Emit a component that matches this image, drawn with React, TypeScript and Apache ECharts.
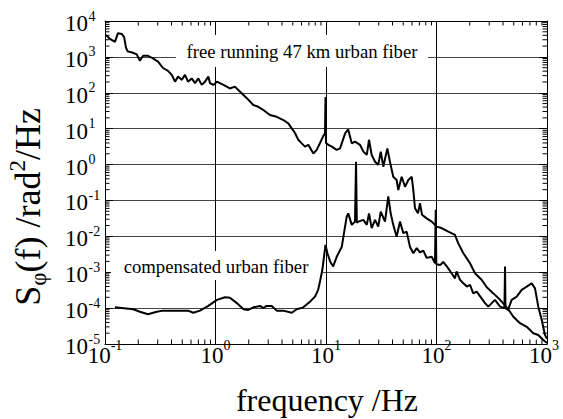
import { useEffect, useRef } from 'react';
import * as echarts from 'echarts';

const FONT = 'Liberation Serif';

// free running 47 km urban fiber: frequency (Hz) and S_phi (rad^2/Hz)
const freeFreq = [0.102, 0.111, 0.123, 0.131, 0.142, 0.149, 0.155, 0.161, 0.174, 0.194, 0.207, 0.221, 0.245, 0.272, 0.302, 0.335, 0.372, 0.402, 0.43, 0.458, 0.494, 0.53, 0.564, 0.609, 0.652, 0.699, 0.75, 0.804, 0.861, 0.891, 0.955, 1.03, 1.18, 1.35, 1.5, 1.67, 1.92, 2.2, 2.44, 2.71, 3.11, 3.58, 4.11, 4.56, 4.9, 5.24, 5.61, 6.03, 6.46, 6.92, 7.68, 8.24, 8.83, 9.46, 9.79, 9.9, 10.0, 10.5, 11.3, 12.5, 13.4, 14.9, 15.9, 17.1, 18.3, 20.3, 21.8, 23.4, 24.5, 25.9, 27.8, 29.7, 31.3, 33.0, 35.9, 37.9, 40.6, 43.6, 45.1, 48.4, 51.9, 55.6, 59.7, 61.7, 63.9, 68.0, 70.9, 74.0, 81.5, 90.5, 100.4, 111, 128, 147, 157, 175, 201, 223, 256, 285, 327, 376, 417, 462, 496, 570, 655, 752, 834, 926, 1000];
const freeVal = [4070, 3160, 2630, 4570, 4370, 3550, 1780, 1410, 1350, 1170, 776, 1070, 1070, 912, 741, 490, 407, 316, 204, 282, 229, 316, 204, 251, 186, 251, 166, 204, 282, 186, 166, 204, 166, 132, 148, 107, 70.8, 45.7, 40.7, 33.1, 24.0, 21.4, 17.4, 14.1, 10.2, 7.59, 4.9, 3.89, 3.16, 3.55, 2.04, 2.57, 3.98, 6.31, 7.41, 75.9, 3.98, 3.55, 3.16, 2.57, 2.82, 7.41, 9.55, 3.89, 4.37, 3.55, 2.29, 1.86, 4.9, 1.86, 1.2, 0.977, 2.29, 0.871, 2.82, 1.2, 0.457, 0.372, 0.195, 0.457, 0.24, 0.372, 0.457, 0.195, 0.0603, 0.0437, 0.0832, 0.0398, 0.0316, 0.0257, 0.0186, 0.017, 0.0135, 0.011, 6.46e-3, 3.39e-3, 1.78e-3, 9.33e-4, 6.17e-4, 3.8e-4, 2.57e-4, 1.7e-4, 1.2e-4, 7.94e-5, 5.75e-5, 3.8e-5, 3.02e-5, 2.0e-5, 1.78e-5, 1.29e-5, 1.07e-5];

// compensated urban fiber
const compFreq = [0.123, 0.18, 0.207, 0.245, 0.294, 0.335, 0.446, 0.564, 0.63, 0.724, 0.861, 1.03, 1.22, 1.35, 1.56, 1.79, 1.98, 2.2, 2.53, 2.71, 2.9, 3.23, 3.58, 4.11, 4.9, 5.43, 6.23, 7.16, 7.95, 8.47, 8.83, 9.26, 9.65, 9.9, 10.3, 10.9, 11.6, 12.5, 13.9, 14.3, 15.4, 15.9, 17.1, 18.3, 18.7, 19.0, 19.6, 21.8, 23.4, 24.5, 25.9, 27.8, 29.7, 31.3, 34.2, 36.6, 38.5, 40.6, 43.6, 46.7, 50.1, 53.7, 57.5, 61.7, 66.2, 70.9, 76.0, 81.5, 90.5, 96.9, 98.4, 99.6, 108, 115, 124, 137, 147, 152, 163, 175, 188, 201, 215, 231, 256, 275, 294, 316, 338, 376, 412, 417, 421, 444, 479, 532, 590, 655, 727, 779, 834, 896, 959, 1000];
const compVal = [1.05e-4, 9.33e-5, 7.94e-5, 6.76e-5, 7.94e-5, 8.51e-5, 8.51e-5, 8.51e-5, 7.41e-5, 8.51e-5, 1.15e-4, 1.7e-4, 2.0e-4, 1.95e-4, 1.38e-4, 9.33e-5, 8.91e-5, 1.05e-4, 1.15e-4, 1.0e-4, 1.15e-4, 1.15e-4, 8.51e-5, 8.51e-5, 7.41e-5, 9.33e-5, 1.05e-4, 1.51e-4, 2.09e-4, 3.16e-4, 5.62e-4, 1.15e-3, 3.16e-3, 5.75e-3, 3.39e-3, 2.0e-3, 1.45e-3, 2.69e-3, 5.13e-3, 8.91e-3, 0.0355, 0.0437, 0.0209, 0.0257, 1.2, 0.024, 0.0257, 0.0288, 0.0209, 0.0437, 0.017, 0.0288, 0.0186, 0.049, 0.0257, 0.129, 0.0437, 0.0209, 9.77e-3, 0.0257, 0.0123, 0.0135, 5.13e-3, 3.39e-3, 4.68e-3, 3.55e-3, 3.98e-3, 2.51e-3, 2.69e-3, 1.78e-3, 0.055, 1.66e-3, 1.58e-3, 1.95e-3, 1.45e-3, 9.33e-4, 6.76e-4, 1.05e-3, 6.17e-4, 4.9e-4, 3.98e-4, 4.47e-4, 2.57e-4, 2.88e-4, 1.86e-4, 1.38e-4, 1.1e-4, 1.38e-4, 1.7e-4, 1.1e-4, 1.0e-4, 1.45e-3, 1.0e-4, 8.91e-5, 1.7e-4, 2.09e-4, 3.24e-4, 3.98e-4, 4.9e-4, 3.55e-4, 1.1e-4, 4.68e-5, 1.78e-5, 1.41e-5];

// axis ranges, decade ticks and their exponent labels
const xMin = 0.1;
const xMax = 1000;
const yMin = 1e-5;
const yMax = 1e4;
const xTicks = [0.1, 1, 10, 100, 1000];
const xTickExp = ['-1', '0', '1', '2', '3'];
const yTicks = [1e-5, 1e-4, 1e-3, 1e-2, 1e-1, 1, 10, 100, 1000, 10000];
const yTickExp = ['-5', '-4', '-3', '-2', '-1', '0', '1', '2', '3', '4'];
const minorMantissas = [2, 3, 4, 5, 6, 7, 8, 9];

const xMinor: number[] = [];
xTicks.slice(0, -1).forEach((d) => minorMantissas.forEach((m) => xMinor.push(m * d)));
const yMinor: number[] = [];
yTicks.slice(0, -1).forEach((d) => minorMantissas.forEach((m) => yMinor.push(m * d)));

let measureCtx: CanvasRenderingContext2D | null = null;
function measure(text: string, size: number): number {
  if (!measureCtx) measureCtx = document.createElement('canvas').getContext('2d');
  if (!measureCtx) return text.length * size * 0.5;
  measureCtx.font = `${size}px "${FONT}"`;
  return measureCtx.measureText(text).width;
}

// text element for the graphic component
function txt(text: string, x: number, y: number, size: number, align: string, extra: any = {}) {
  return {
    type: 'text', x, y, z: 3, ...extra,
    style: { text, fontSize: size, fontFamily: FONT, fill: '#000', textAlign: align, textVerticalAlign: 'middle', align, verticalAlign: 'middle' },
  };
}

export default function App() {
  const ref = useRef<HTMLDivElement>(null);
  useEffect(() => {
    if (!ref.current) return;
    const chart = echarts.init(ref.current, undefined, { renderer: 'svg' });
    const tickLine = { stroke: '#000', lineWidth: 1 };
    const axisBase = (pos: string, isX: boolean, split: boolean) => ({
      type: 'log', logBase: 10, position: pos,
      min: isX ? xMin : yMin, max: isX ? xMax : yMax, splitNumber: isX ? 4 : 9,
      axisLine: { show: true, onZero: false, lineStyle: { color: '#000', width: 1 } },
      axisTick: { show: true, inside: true, length: 8, lineStyle: { color: '#000', width: 1 } },
      axisLabel: { show: false },
      splitLine: { show: split, lineStyle: isX ? { color: '#000', width: 1 } : { color: '#444', width: 1.2 } },
      minorTick: { show: false }, minorSplitLine: { show: false },
    });

    const option: any = {
      animation: false,
      backgroundColor: '#fff',
      textStyle: { fontFamily: FONT, color: '#000' },
      grid: { left: 105, right: 16, top: 21, bottom: 75, containLabel: false },
      xAxis: [axisBase('bottom', true, true), axisBase('top', true, false)],
      yAxis: [axisBase('left', false, true), axisBase('right', false, false)],
      series: [
        {
          type: 'line', name: 'free', xAxisIndex: 0, yAxisIndex: 0, showSymbol: false, symbol: 'none',
          data: freeFreq.map((f, i) => [f, freeVal[i]]),
          lineStyle: { color: '#000', width: 2 }, z: 4,
        },
        {
          type: 'line', name: 'comp', xAxisIndex: 0, yAxisIndex: 0, showSymbol: false, symbol: 'none',
          data: compFreq.map((f, i) => [f, compVal[i]]),
          lineStyle: { color: '#000', width: 2 }, z: 4,
        },
        {
          // minor ticks on bottom and top
          type: 'custom', xAxisIndex: 0, yAxisIndex: 0, clip: false, z: 5,
          data: xMinor.map((v) => [v, 1]),
          renderItem: (_p: any, api: any) => {
            const v = api.value(0);
            const b = api.coord([v, yMin]);
            const t = api.coord([v, yMax]);
            return {
              type: 'group',
              children: [
                { type: 'line', shape: { x1: b[0], y1: b[1], x2: b[0], y2: b[1] - 4.5 }, style: tickLine },
                { type: 'line', shape: { x1: t[0], y1: t[1], x2: t[0], y2: t[1] + 4.5 }, style: tickLine },
              ],
            };
          },
        },
        {
          // minor ticks on left and right
          type: 'custom', xAxisIndex: 0, yAxisIndex: 0, clip: false, z: 5,
          data: yMinor.map((v) => [1, v]),
          renderItem: (_p: any, api: any) => {
            const v = api.value(1);
            const l = api.coord([xMin, v]);
            const r = api.coord([xMax, v]);
            return {
              type: 'group',
              children: [
                { type: 'line', shape: { x1: l[0], y1: l[1], x2: l[0] + 4.5, y2: l[1] }, style: tickLine },
                { type: 'line', shape: { x1: r[0], y1: r[1], x2: r[0] - 4.5, y2: r[1] }, style: tickLine },
              ],
            };
          },
        },
      ],
    };
    chart.setOption(option);

    // tick labels 10^n placed through the chart's own scales
    const labels: any[] = [];
    const wB = measure('10', 23);
    xTicks.forEach((v, i) => {
      const c = chart.convertToPixel({ gridIndex: 0 }, [v, yMin]) as number[];
      const es = xTickExp[i];
      const wS = measure(es, 14);
      let left = c[0] - (wB + wS) / 2;
      if (left + wB + wS > 559) left = 559 - wB - wS;
      labels.push(txt('10', left, c[1] + 11, 23, 'left'));
      labels.push(txt(es, left + wB, c[1] + 1, 14, 'left'));
    });
    yTicks.forEach((v, i) => {
      const c = chart.convertToPixel({ gridIndex: 0 }, [xMin, v]) as number[];
      labels.push(txt('10', c[0] - 17, c[1] + 2.5, 23, 'right'));
      labels.push(txt(yTickExp[i], c[0] - 16.5, c[1] - 5, 14, 'left'));
    });

    // y-axis title: S_phi(f) /rad^2/Hz, built from plain texts in a rotated group
    const M = 36, SUBS = 23;
    const parts = [
      { t: 'S', s: M, dy: 0 },
      { t: 'φ', s: SUBS, dy: 10 },
      { t: '(f) /rad', s: M, dy: 0 },
      { t: '2', s: SUBS, dy: -11 },
      { t: '/Hz', s: M, dy: 0 },
    ];
    const widths = parts.map((p) => measure(p.t, p.s));
    const total = widths.reduce((a, b) => a + b, 0);
    let cx = -total / 2;
    const yTitleChildren = parts.map((p, i) => {
      const el = txt(p.t, cx, p.dy, p.s, 'left');
      cx += widths[i];
      return el;
    });

    chart.setOption({
      graphic: [
        { type: 'rect', z: 1, shape: { x: 176, y: 35, width: 252, height: 32 }, style: { fill: '#fff' } },
        txt('free running 47 km urban fiber', 302, 51, 18.7, 'center'),
        { type: 'rect', z: 1, shape: { x: 111, y: 251, width: 212, height: 29 }, style: { fill: '#fff' } },
        txt('compensated urban fiber', 216, 266, 18.7, 'center'),
        txt('frequency /Hz', 327, 400, 32, 'center'),
        { type: 'group', x: 28, y: 207, rotation: Math.PI / 2, z: 3, children: yTitleChildren },
        ...labels,
      ],
    });
    return () => chart.dispose();
  }, []);
  return <div ref={ref} style={{ position: 'absolute', left: 0, top: 0, width: 563, height: 419, background: '#fff' }} />;
}
